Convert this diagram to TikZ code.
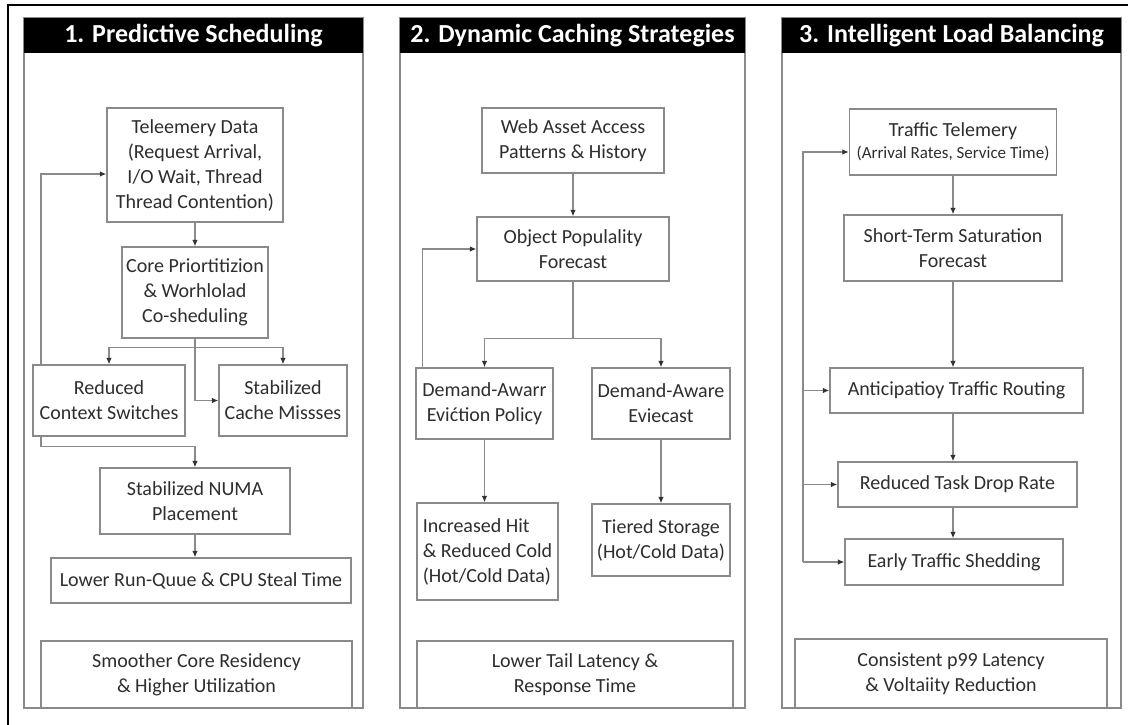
\documentclass[tikz,border=0pt]{standalone}
\usepackage{fontspec}
\setmainfont{Carlito}
\usetikzlibrary{arrows.meta,calc}
\definecolor{linegray}{HTML}{8A8A8A}
\definecolor{txtgray}{HTML}{2E2E2E}
\tikzset{
  box/.style={draw=linegray, line width=1.3pt, fill=white, rectangle, inner sep=2pt,
    align=center, text=txtgray, font=\fontsize{20}{25}\selectfont},
  panel/.style={draw=linegray, line width=1.3pt, rectangle},
  header/.style={fill=black, text=white, font=\bfseries\fontsize{26}{28}\selectfont, inner sep=0pt},
  conn/.style={draw=linegray, line width=1.2pt, -{Latex[length=6.5pt,width=5.5pt,color=black!80]}},
  plain/.style={draw=linegray, line width=1.2pt}
}
\begin{document}
\begin{tikzpicture}[x=1pt,y=-1pt]
\useasboundingbox (0,0) rectangle (1128,725);
\fill[white] (0,0) rectangle (1128,725);
% outer frame (right and bottom beyond the page)
\draw[black, line width=2pt] (8,725) -- (8,5) -- (1128,5);

% ---------------- panel 1 ----------------
\node[panel, minimum width=339pt, minimum height=690pt] (p1) at (193.5,363) {};
\node[header, minimum width=339pt, minimum height=35pt] (h1) at (193.5,35.5) {1. Predictive Scheduling};
\node[box, minimum width=176pt, minimum height=114pt] (tel) at (195,165) {Teleemery Data\\(Request Arrival,\\I/O Wait, Thread\\Thread Contention)};
\node[box, minimum width=146pt, minimum height=91pt] (core) at (195,292.5) {Core Priortitizion\\\& Worhlolad\\Co-sheduling};
\node[box, minimum width=152pt, minimum height=71pt] (red) at (109,400.5) {Reduced\\Context Switches};
\node[box, minimum width=128pt, minimum height=71pt] (cache) at (283,400.5) {Stabilized\\Cache Missses};
\node[box, minimum width=190pt, minimum height=66pt] (numa) at (195,501) {Stabilized NUMA\\Placement};
\node[box, minimum width=300pt, minimum height=45pt] (lower) at (201,580.5) {Lower Run-Quue \& CPU Steal Time};
\node[box, minimum width=311pt, minimum height=67pt] (res1) at (196.5,674.5) {Smoother Core Residency\\\& Higher Utilization};

\draw[conn] (tel.south) -- (core.north);
\draw[conn] (core.south) -- ++(0,9) -| (red.north);
\draw[conn] (core.south) -- ++(0,9) -| (cache.north);
\draw[conn] (core.south) |- (cache.west);
\draw[conn] ([xshift=-68pt]red.north) |- ([yshift=-9pt]tel.west);
\draw[conn] ([xshift=-68pt]red.south) -- ++(0,10) -| (numa.north);
\draw[conn] (numa.south) -- (numa.south |- lower.north);

% ---------------- panel 2 ----------------
\node[panel, minimum width=345pt, minimum height=690pt] (p2) at (572.5,363) {};
\node[header, minimum width=345pt, minimum height=35pt] (h2) at (572.5,35.5) {2. Dynamic Caching Strategies};
\node[box, minimum width=182pt, minimum height=65pt] (web) at (573,140.5) {Web Asset Access\\Patterns \& History};
\node[box, minimum width=192pt, minimum height=64pt] (obj) at (573,249) {Object Populality\\Forecast};
\node[box, minimum width=137pt, minimum height=71pt] (dap) at (484.5,403.5) {Demand-Awarr\\Evi\'ction Policy};
\node[box, minimum width=138pt, minimum height=71pt] (dae) at (661,403.5) {Demand-Aware\\Eviecast};
\node[box, minimum width=141pt, minimum height=97pt, align=left] (hit) at (487.5,551.5) {Increased Hit\\\& Reduced Cold\\(Hot/Cold Data)};
\node[box, minimum width=138pt, minimum height=72pt] (tier) at (661,540) {Tiered Storage\\(Hot/Cold Data)};
\node[box, minimum width=316pt, minimum height=67pt] (res2) at (575,674.5) {Lower Tail Latency \&\\Response Time};

\draw[conn] (web.south) -- (obj.north);
\draw[conn] (obj.south) -- ++(0,57) -| (dap.north);
\draw[conn] (obj.south) -- ++(0,57) -| (dae.north);
\draw[conn] ([xshift=-62pt]dap.north) |- (obj.west);
\draw[conn] (dap.south) -- (dap.south |- hit.north);
\draw[conn] (dae.south) -- (dae.south |- tier.north);

% ---------------- panel 3 ----------------
\node[panel, minimum width=339pt, minimum height=690pt] (p3) at (951.5,363) {};
\node[header, minimum width=339pt, minimum height=35pt] (h3) at (951.5,35.5) {3. Intelligent Load Balancing};
\node[box, minimum width=207pt, minimum height=66pt] (tt) at (953,142) {Traffic Telemery\\[-3pt]{\fontsize{17}{20}\selectfont (Arrival Rates, Service Time)}};
\node[box, minimum width=218pt, minimum height=66pt] (st) at (953,248) {Short-Term Saturation\\Forecast};
\node[box, minimum width=253pt, minimum height=45pt] (ant) at (956.5,390.5) {Anticipatioy Traffic Routing};
\node[box, minimum width=239pt, minimum height=45pt] (rtd) at (957.5,484.5) {Reduced Task Drop Rate};
\node[box, minimum width=218pt, minimum height=46pt] (ets) at (954,562) {Early Traffic Shedding};
\node[box, minimum width=312pt, minimum height=69pt] (res3) at (951,673.5) {Consistent p99 Latency\\\& Voltaiity Reduction};
\coordinate (bus) at (803,0);

\draw[conn] (tt.south -| st.north) -- (st.north);
\draw[conn] (st.south) -- (st.south |- ant.north);
\draw[conn] (st.south |- ant.south) -- (st.south |- rtd.north);
\draw[conn] (st.south |- rtd.south) -- (st.south |- ets.north);
\draw[conn] (ets.west -| bus) |- ([yshift=-10pt]tt.west);
\draw[conn] (ets.west -| bus) -- (ets.west);
\draw[conn] (ant.west -| bus) -- (ant.west);
\draw[conn] (rtd.west -| bus) -- (rtd.west);
\end{tikzpicture}
\end{document}
